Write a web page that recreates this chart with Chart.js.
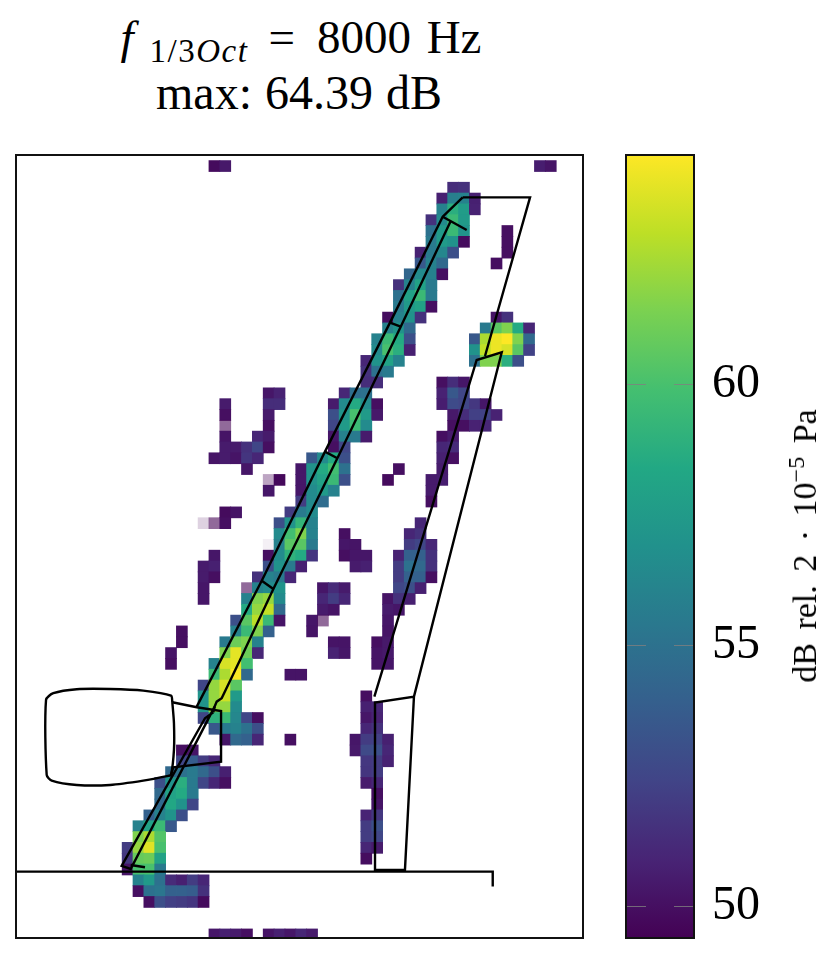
<!DOCTYPE html>
<html>
<head>
<meta charset="utf-8">
<title>Beamforming map 8000 Hz</title>
<script src="https://cdn.jsdelivr.net/npm/chart.js@4"></script>
<style>
    html, body { margin: 0; padding: 0; background: #fff; }
    body { width: 832px; height: 954px; position: relative; overflow: hidden; font-family: "Liberation Serif", serif; color: #000; }
    canvas { position: absolute; top: 0; }
    #mapChart { left: 0; }
    #barChart { left: 600px; }
    .title { position: absolute; left: 0; text-align: center; line-height: 54px; white-space: nowrap; }
    .title sub { font-size: 33px; line-height: 0; vertical-align: -9px; letter-spacing: 1.5px; margin-left: 16px; }
    #titleTop { width: 602px; font-size: 47px; word-spacing: 4px; }
    #titleTop .eq { margin: 0 22px 0 20px; }
    #titleBottom { width: 598px; font-size: 48px; word-spacing: 1px; }
    #barLabel { position: absolute; left: 805px; top: 546px; font-size: 34px; word-spacing: 5px; white-space: nowrap; transform: translate(-50%, -50%) rotate(-90deg); }
    #barLabel sup { font-size: 24px; line-height: 0; }
</style>
</head>
<body>
<div class="title" id="titleTop" style="top: 10px"><i>f</i><sub>1/3<i>Oct</i></sub><span class="eq">=</span>8000 Hz</div>
<div class="title" id="titleBottom" style="top: 66px">max: 64.39 dB</div>
<canvas id="mapChart" width="832" height="954"></canvas>
<canvas id="barChart" width="232" height="954"></canvas>
<div id="barLabel">dB rel. 2 · 10<sup>−5</sup> Pa</div>
<script>
// map cells as runs: row, first column, then the dB values along the row
const runRow = [0, 0, 2, 3, 4, 5, 6, 6, 7, 7, 8, 8, 9, 9, 10, 11, 12, 13, 14, 14, 15, 15, 16, 16, 17, 17, 18, 18, 19,
    20, 20, 21, 21, 21, 22, 22, 22, 22, 23, 23, 23, 23, 24, 24, 24, 24, 25, 25, 25, 25, 26, 26, 26,
    27, 27, 27, 28, 28, 28, 28, 29, 29, 29, 29, 30, 30, 30, 31, 31, 32, 32, 33, 33, 33, 34, 34, 34,
    35, 35, 35, 36, 36, 36, 36, 37, 37, 37, 37, 38, 38, 38, 39, 39, 39, 39, 40, 40, 40, 40,
    41, 41, 41, 42, 42, 42, 43, 43, 43, 43, 44, 44, 44, 44, 45, 45, 45, 45, 46, 46, 46,
    47, 47, 48, 49, 49, 50, 50, 51, 51, 52, 52, 53, 53, 53, 54, 54, 55, 55, 56, 56, 57, 57,
    58, 58, 59, 59, 60, 60, 61, 61, 62, 62, 63, 63, 64, 64, 65, 66, 67, 68, 71, 71];
const runCol = [18, 48, 40, 39, 39, 38, 38, 45, 38, 45, 37, 45, 37, 44, 36, 35, 35, 35, 34, 44, 34, 43, 33, 42, 33, 42, 32, 42, 32,
    32, 39, 23, 30, 39, 19, 23, 29, 39, 19, 23, 29, 40, 19, 23, 29, 40, 19, 22, 29, 39, 19, 29, 39,
    18, 27, 39, 21, 26, 35, 39, 23, 26, 34, 38, 23, 26, 38, 26, 38, 19, 25, 17, 24, 37, 24, 30, 36,
    23, 30, 36, 18, 23, 30, 35, 17, 23, 31, 35, 17, 22, 35, 17, 21, 28, 35, 17, 21, 28, 34,
    21, 28, 34, 20, 27, 34, 15, 20, 27, 34, 15, 19, 29, 33, 14, 19, 29, 33, 14, 18, 33,
    18, 25, 17, 17, 32, 17, 32, 17, 32, 18, 32, 19, 25, 31, 15, 31, 15, 32, 14, 32, 13, 32,
    13, 33, 13, 33, 12, 32, 11, 32, 11, 32, 10, 32, 10, 32, 10, 11, 11, 12, 18, 23];
const runDb = [
    [49.8, 50.4], [50.6, 50.2], [51.3, 51.5], [50.7, 55.8, 56, 50.7], [56, 58.8, 57.6, 50.8], [51.5, 56.5, 59.5, 57.5],
    [55, 57.5, 59.5, 57], [50], [55.5, 57.5, 57, 49.8], [50], [50.8, 55.5, 56.3, 53], [50], [53.5, 56, 54.5], [50],
    [54.3, 56.5, 56, 50], [51.5, 56, 58, 55.5], [55, 58, 59.5, 55.5], [55.5, 57.5, 58, 50], [49.9, 56, 57, 51.5], [50.2, 51.5],
    [56, 57, 54.5], [55.5, 60.5, 61.5, 58.5, 51], [56, 59.5, 58.5, 53], [53.5, 62.5, 64, 64.39, 61.5, 54.5],
    [56.5, 60, 58.8, 50.7], [57, 63, 64, 63.5, 60.5, 52.3], [51, 57, 58, 56], [55, 61.5, 61.5, 58.8, 53], [51.5, 55, 55.5],
    [51.3, 51.3], [50, 51.3, 50.3], [50.3, 50.8], [51, 54.8, 55], [50.8, 53.5, 52.5],
    [50.5], [51.3, 51.3], [50.5, 56.5, 58.5, 56.5, 50], [50.6, 52.8, 52.5, 51.8, 50.3],
    [50], [50.5], [53, 57, 60, 57.5, 50.4], [50.4, 51.3, 52.2, 52.3, 50.8],
    [49], [50], [52.5, 57.5, 59.5, 56.5], [50, 50, 50.8, 51],
    [50.2], [51, 50.5], [50.3, 56, 55.5, 50.5], [50, 50.5],
    [50.5, 50.5, 51.5, 52.5, 50], [50, 52.5], [51, 51.2],
    [50.2, 50.5, 50.2, 51.7, 51], [53.5, 56.5, 58.5, 53], [50.7, 50],
    [50.3], [50.3, 57, 58.5, 59.8, 55], [50], [50.5],
    [48.8, 49.7], [50.3, 57, 58, 59.5, 53], [49.8], [50.5, 50.6],
    [50.3], [50.3, 56.5, 57.5, 56], [50.5],
    [52, 56.5, 54.7], [50],
    [49.8, 50.2], [52, 55.5, 56.5],
    [48.65, 49, 50], [53, 57, 59.2, 56], [51],
    [56.5, 59.8, 61.5, 56], [50], [51, 51.5],
    [48.55, 56, 60.5, 60.5, 55.5], [50.3, 50.2], [52, 52.5, 51],
    [50.3], [50, 56.5, 59, 58.5, 51.7], [50, 50.3, 50.3], [50.8, 54, 54, 51.5],
    [50.5, 50.7], [53, 57, 55.5, 50.7], [50.5, 50.7], [52, 55, 54.5, 51.5],
    [50.5, 50], [51.5, 56, 55.5, 51], [52, 54, 54, 50],
    [50.3], [49, 56, 56.5, 57], [50.3, 51.2, 50.5], [52.5, 53, 50.7],
    [50.3], [56, 61.5, 62, 56.5], [51, 52, 51], [50.2, 51.5, 50.7],
    [58.5, 62, 63, 54.5], [50.5, 50.2], [50.5, 50.3],
    [53, 60.5, 62.8, 59.5, 50.2], [50.3, 49], [50.3],
    [50], [56, 59.5, 61.5, 54], [50.2], [50.2],
    [50], [55.5, 61, 61.5, 56], [50.2, 50.2], [50, 50.4],
    [50.2], [61.5, 63.8, 61, 51], [50.8, 50.3], [50.2, 50.4],
    [50], [56, 63.5, 63.8, 59.8], [50.2, 50.3],
    [59.5, 62.5, 64.3, 54.5], [50.2, 50.2],
    [52.5, 62, 63.5, 60.5],
    [57, 62, 63.3, 57.5], [50],
    [57, 62, 62, 56.5], [50.7, 51],
    [52.5, 59, 59.5, 56.3, 52.5, 50], [50.3, 50.8],
    [53.5, 55.5, 56, 55, 53], [51, 51.5],
    [50.3, 54.5, 54, 51], [50], [50.3, 52, 52.2, 50.7],
    [50, 50.2], [50.4, 52.7, 53, 51],
    [52.5, 53.8, 52, 51], [51.8, 52, 50.8],
    [54.5, 55, 55.5, 54.5, 53, 50.7], [51.7, 52],
    [53, 57, 58.8, 55.5, 52.5, 51, 50], [50.5, 51],
    [54.5, 58, 58.5, 55.5], [50],
    [54.5, 58.3, 57, 52.5], [50.2],
    [54, 56, 57, 53], [50.9, 51.8],
    [56, 58, 59.5, 53.5], [52, 53],
    [61.5, 62.5, 60.3], [52, 52.5],
    [52, 62, 63.7, 60], [51, 50.5],
    [51.8, 60.8, 61, 58], [49.9],
    [50.2, 60, 60, 55.5],
    [56, 57.5, 55, 51.2, 50.7, 52, 51],
    [50, 55, 55.3, 54, 54, 53.8, 51.5],
    [50, 53, 52.2, 52, 51.7, 49.8],
    [50.3, 50.7, 50.5, 50], [50.2, 50.7, 50.3, 51, 50.5]
];

// aircraft outline, in the same grid units as the cells
const groundLine = [[0.21, 65.7], [44.15, 65.7], [44.15, 67.08]];
const slatFront = [[41.38, 3.39], [39.54, 5.18], [34.68, 14.97], [28.69, 26.89], [22.86, 38.81], [16.87, 50.45]];
const slatBack = [[40.28, 5.58], [35.67, 15.34], [29.83, 27.5], [23.93, 39.58], [20.86, 46.14], [19.17, 49.68], [18.71, 49.99], [18.52, 50.45], [18.4, 50.97]];
const slatTicks1 = [[39.54, 5.18], [41.75, 6.41]];
const slatTicks2 = [[34.68, 14.97], [35.67, 15.34]];
const slatTicks3 = [[28.69, 26.89], [29.83, 27.5]];
const slatTicks4 = [[22.86, 38.81], [23.93, 39.58]];
const innerSlat = [[18.4, 50.97], [17.63, 51.52], [9.95, 65.17], [10.78, 65.45], [18.52, 50.45]];
const innerTail = [[10.78, 65.08], [12.1, 65.29]];
const pylon = [[14.62, 50.05], [16.87, 50.51], [19.11, 50.85], [19.11, 55.53], [14.71, 56.05], [14.5, 56.76]];
const nacelle = [[14.62, 50.05], [14.5, 49.44], [11.94, 48.97], [8.88, 48.82], [5.81, 48.84], [3.65, 49.21], [2.98, 49.83],
    [3.04, 56.76], [3.5, 57.29], [5.81, 57.69], [8.88, 57.69], [11.94, 57.29], [14.25, 56.85], [14.5, 56.76],
    [14.77, 54.45], [14.77, 51.98], [14.62, 50.05]];
const flapOuter = [[41.38, 3.39], [47.59, 3.39], [43.44, 18.05]];
const flapMid = [[33.24, 49.53], [42.67, 18.42], [44.98, 17.71], [36.89, 49.53], [33.3, 50.08], [33.3, 65.54], [36.06, 65.54], [36.89, 49.53]];
const outlinePaths = [groundLine, slatFront, slatBack, slatTicks1, slatTicks2, slatTicks3, slatTicks4, innerSlat, innerTail, pylon, flapOuter, flapMid];

const dbMax = 64.39;
const dbMin = 49.39;
const barTicks = [50, 55, 60];
const viridis = ["#440154", "#482475", "#414487", "#355f8d", "#2a788e", "#21918c", "#22a884", "#44bf70", "#7ad151", "#bddf26", "#fde725"];

function hexToRgb(hex) {
    return [1, 3, 5].map(i => parseInt(hex.slice(i, i + 2), 16));
}

function dbColor(db) {
    const t = Math.min(1, Math.max(0, (db - dbMin) / (dbMax - dbMin))) * (viridis.length - 1);
    const i = Math.min(viridis.length - 2, Math.floor(t));
    const a = hexToRgb(viridis[i]);
    const b = hexToRgb(viridis[i + 1]);
    const rgb = a.map((v, k) => Math.round(v + (b[k] - v) * (t - i)));
    // values under the colour range fade out towards white
    const alpha = Math.min(1, Math.max(0, (db - 48.5) / 0.85));
    return `rgba(${rgb[0]}, ${rgb[1]}, ${rgb[2]}, ${alpha})`;
}

const cellPoints = [];
runRow.forEach((row, i) => {
    runDb[i].forEach((db, k) => {
        cellPoints.push({ x: runCol[i] + k + 0.5, y: row + 0.5, db: db });
    });
});

const framePlugin = {
    id: "frame",
    afterDraw(chart) {
        const { ctx, chartArea: a } = chart;
        ctx.save();
        ctx.strokeStyle = "#111";
        ctx.lineWidth = 2;
        ctx.strokeRect(a.left, a.top, a.right - a.left, a.bottom - a.top);
        ctx.restore();
    }
};

const outlineSets = outlinePaths.map(path => ({
    data: path.map(p => ({ x: p[0], y: p[1] })),
    showLine: true,
    pointRadius: 0,
    borderColor: "#000",
    borderWidth: 2.4,
    order: 0
}));

new Chart(document.getElementById("mapChart"), {
    type: "scatter",
    plugins: [framePlugin],
    data: {
        datasets: [
            ...outlineSets,
            {
                data: nacelle.map(p => ({ x: p[0], y: p[1] })),
                showLine: true,
                tension: 0.25,
                pointRadius: 0,
                borderColor: "#000",
                borderWidth: 2.4,
                order: 0
            },
            {
                data: cellPoints,
                pointStyle: "rect",
                // a bit over one grid step so no seams show between neighbours
                pointRadius: ctx => (ctx.chart.scales.x.getPixelForValue(1) - ctx.chart.scales.x.getPixelForValue(0) + 0.8) * Math.SQRT1_2,
                pointBorderWidth: 0,
                pointBackgroundColor: ctx => dbColor(ctx.raw.db),
                order: 1
            }
        ]
    },
    options: {
        responsive: false,
        animation: false,
        events: [],
        layout: { padding: { left: 16, top: 155, right: 249, bottom: 16 } },
        plugins: { legend: { display: false }, tooltip: { enabled: false } },
        scales: {
            x: { display: false, min: 0.212, max: 52.47 },
            y: { display: false, reverse: true, min: -0.522, max: 71.83 }
        }
    }
});

const barTickPlugin = {
    id: "barTicks",
    afterDatasetsDraw(chart) {
        const { ctx, chartArea: a, scales } = chart;
        ctx.save();
        ctx.strokeStyle = "rgba(128, 128, 128, 0.8)";
        ctx.lineWidth = 1;
        barTicks.forEach(t => {
            const y = Math.round(scales.y.getPixelForValue(t)) + 0.5;
            ctx.beginPath();
            ctx.moveTo(a.left, y);
            ctx.lineTo(a.left + 20, y);
            ctx.moveTo(a.right - 20, y);
            ctx.lineTo(a.right, y);
            ctx.stroke();
        });
        ctx.restore();
    }
};

new Chart(document.getElementById("barChart"), {
    type: "bar",
    plugins: [barTickPlugin, framePlugin],
    data: {
        labels: ["dB"],
        datasets: [{
            data: [[dbMin, dbMax]],
            barPercentage: 1,
            categoryPercentage: 1,
            backgroundColor: ctx => {
                const area = ctx.chart.chartArea;
                if (!area) return viridis[0];
                const g = ctx.chart.ctx.createLinearGradient(0, area.bottom, 0, area.top);
                viridis.forEach((c, i) => g.addColorStop(i / (viridis.length - 1), c));
                return g;
            }
        }]
    },
    options: {
        responsive: false,
        animation: false,
        events: [],
        layout: { padding: { left: 26, top: 155, right: 0, bottom: 16 } },
        plugins: { legend: { display: false }, tooltip: { enabled: false } },
        scales: {
            x: { display: false },
            y: {
                position: "right",
                min: dbMin,
                max: dbMax,
                afterBuildTicks: axis => { axis.ticks = barTicks.map(v => ({ value: v })); },
                afterFit: axis => {
                    axis.width = 138;
                    // the big tick labels must not shrink the bar
                    axis.paddingTop = 0;
                    axis.paddingBottom = 0;
                },
                grid: { display: false, drawTicks: false },
                border: { display: false },
                ticks: { color: "#000", padding: 18, font: { family: "Liberation Serif", size: 48 } }
            }
        }
    }
});
</script>
</body>
</html>
